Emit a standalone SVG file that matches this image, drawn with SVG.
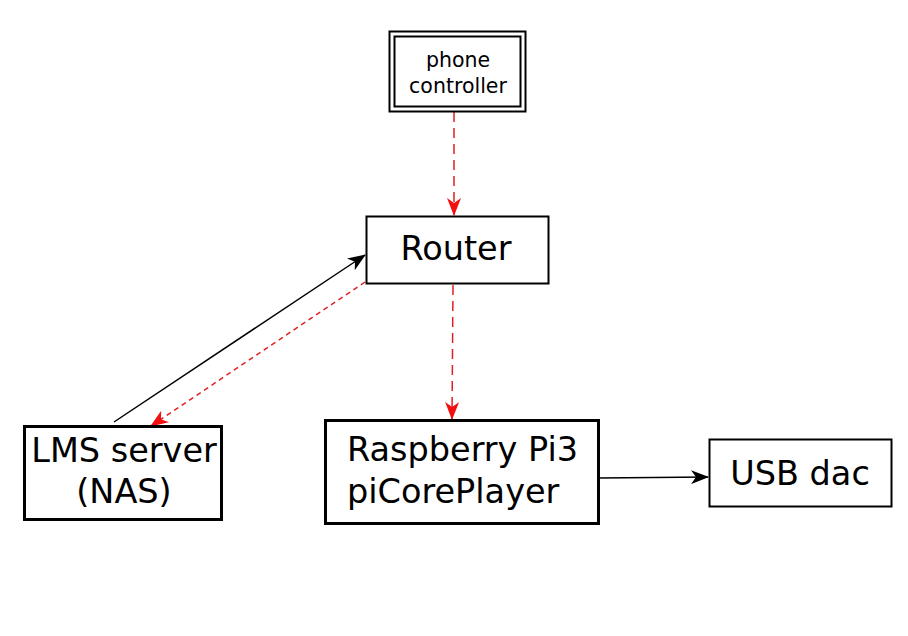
<svg xmlns="http://www.w3.org/2000/svg" width="908" height="636" viewBox="0 0 908 636">
<defs>
<marker id="ab" viewBox="0 0 18 14" refX="17" refY="7" markerWidth="18" markerHeight="14" markerUnits="userSpaceOnUse" orient="auto">
<path d="M0,0 L18,7 L0,14 L5,7 Z" fill="#000"/>
</marker>
<marker id="ar" viewBox="0 0 18 14" refX="17" refY="7" markerWidth="18" markerHeight="14" markerUnits="userSpaceOnUse" orient="auto">
<path d="M0,0 L18,7 L0,14 L5,7 Z" fill="#f01010"/>
</marker>
</defs>
<style>
.box{fill:#fff;stroke:#000;stroke-width:2}
.thick{fill:#fff;stroke:#000;stroke-width:3}
.t{font-family:"DejaVu Sans","Liberation Sans",sans-serif;fill:#000;text-anchor:middle}
.red{fill:none;stroke:#e02020;stroke-width:1.5;stroke-dasharray:10,6}
.reddot{fill:none;stroke:#e02020;stroke-width:1.5;stroke-dasharray:5,4}
.blk{fill:none;stroke:#000;stroke-width:1.5}
</style>
<rect width="908" height="636" fill="#fff"/>
<g id="connectors">
<line class="red" x1="454" y1="112" x2="454" y2="215" marker-end="url(#ar)"/>
<line class="red" x1="453" y1="285" x2="452" y2="419" marker-end="url(#ar)"/>
<line class="blk" x1="114" y1="422" x2="365" y2="255" marker-end="url(#ab)"/>
<line class="reddot" x1="365" y1="282" x2="151" y2="426" marker-end="url(#ar)"/>
<line class="blk" x1="599" y1="478" x2="708" y2="477" marker-end="url(#ab)"/>
</g>
<g id="phone">
<rect x="389.5" y="31.5" width="136" height="80" fill="#fff" stroke="#000" stroke-width="2"/>
<rect x="394.5" y="36.5" width="126" height="70" fill="none" stroke="#000" stroke-width="2"/>
<text class="t" x="458" y="67" font-size="20.5">phone</text>
<text class="t" x="458" y="93" font-size="20.5">controller</text>
</g>
<g id="router">
<rect class="box" x="366.5" y="216.5" width="182" height="67"/>
<text class="t" x="456" y="260" font-size="33.5">Router</text>
</g>
<g id="pi">
<rect class="thick" x="325.5" y="420.5" width="273" height="103"/>
<text class="t" x="347" y="461" font-size="33.5" text-anchor="start" style="text-anchor:start">Raspberry Pi3</text>
<text class="t" x="347" y="503" font-size="33.5" style="text-anchor:start">piCorePlayer</text>
</g>
<g id="lms">
<rect class="thick" x="24.5" y="426.5" width="197" height="93"/>
<text class="t" x="124" y="462" font-size="33.5">LMS server</text>
<text class="t" x="124" y="503" font-size="33.5">(NAS)</text>
</g>
<g id="usb">
<rect class="box" x="709.5" y="439.5" width="182" height="67"/>
<text class="t" x="800" y="485" font-size="33.5">USB dac</text>
</g>
</svg>
